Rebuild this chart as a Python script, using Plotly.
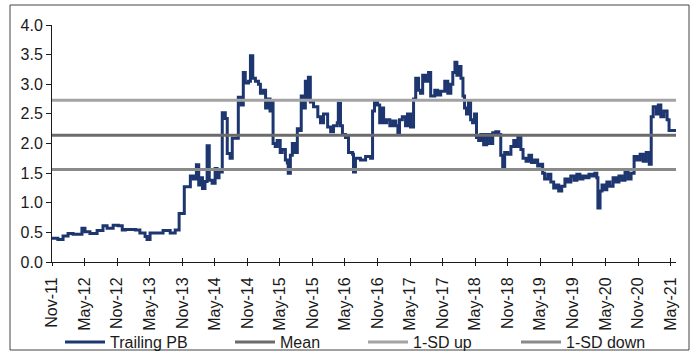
import pandas as pd
import plotly.graph_objects as go

# Trailing price-to-book multiple (observations at change points)
pb_dates = [
    "2011-11-01", "2011-12-04", "2012-01-02", "2012-01-30", "2012-02-27", "2012-04-17",
    "2012-05-04", "2012-06-01", "2012-07-11", "2012-08-13", "2012-09-05", "2012-10-09",
    "2012-11-07", "2012-11-29", "2012-12-16", "2013-02-11", "2013-03-08", "2013-04-06",
    "2013-04-17", "2013-05-04", "2013-07-16", "2013-08-25", "2013-09-22", "2013-10-14",
    "2013-11-12", "2013-12-16", "2014-01-02", "2014-01-19", "2014-02-01", "2014-02-11",
    "2014-02-22", "2014-03-08", "2014-03-20", "2014-04-01", "2014-04-17", "2014-05-04",
    "2014-05-15", "2014-05-26", "2014-06-13", "2014-06-30", "2014-07-11", "2014-07-27",
    "2014-08-08", "2014-09-11", "2014-09-28", "2014-10-09", "2014-10-20", "2014-11-07",
    "2014-11-18", "2014-12-01", "2014-12-16", "2015-01-02", "2015-01-13", "2015-01-30",
    "2015-02-11", "2015-02-22", "2015-03-08", "2015-03-20", "2015-03-25", "2015-04-06",
    "2015-04-17", "2015-05-04", "2015-05-15", "2015-06-02", "2015-06-13", "2015-06-18",
    "2015-06-30", "2015-07-11", "2015-07-27", "2015-08-08", "2015-08-25", "2015-08-30",
    "2015-09-11", "2015-09-22", "2015-10-03", "2015-10-09", "2015-10-20", "2015-11-07",
    "2015-12-01", "2015-12-16", "2016-01-02", "2016-01-25", "2016-02-11", "2016-02-27",
    "2016-03-19", "2016-03-25", "2016-04-06", "2016-04-17", "2016-05-04", "2016-05-21",
    "2016-06-13", "2016-06-18", "2016-06-29", "2016-07-27", "2016-08-25", "2016-09-22",
    "2016-10-03", "2016-10-14", "2016-10-31", "2016-11-12", "2016-11-23", "2016-12-04",
    "2016-12-21", "2017-01-08", "2017-01-25", "2017-02-11", "2017-02-22", "2017-03-03",
    "2017-03-19", "2017-04-06", "2017-04-17", "2017-05-04", "2017-05-21", "2017-06-02",
    "2017-06-18", "2017-06-29", "2017-07-11", "2017-07-27", "2017-08-13", "2017-08-25",
    "2017-09-17", "2017-10-03", "2017-10-20", "2017-11-12", "2017-11-29", "2017-12-16",
    "2017-12-27", "2018-01-08", "2018-01-19", "2018-01-30", "2018-02-11", "2018-02-22",
    "2018-03-03", "2018-03-14", "2018-03-25", "2018-04-06", "2018-04-17", "2018-04-28",
    "2018-05-09", "2018-05-21", "2018-06-02", "2018-06-18", "2018-07-05", "2018-07-22",
    "2018-08-08", "2018-08-25", "2018-09-11", "2018-09-22", "2018-10-03", "2018-10-14",
    "2018-10-31", "2018-11-18", "2018-12-04", "2018-12-16", "2018-12-27", "2019-01-13",
    "2019-01-25", "2019-02-11", "2019-02-27", "2019-03-14", "2019-03-31", "2019-04-17",
    "2019-05-04", "2019-05-15", "2019-05-26", "2019-06-13", "2019-06-30", "2019-07-16",
    "2019-08-02", "2019-08-13", "2019-08-30", "2019-09-17", "2019-10-03", "2019-10-20",
    "2019-11-07", "2019-11-23", "2019-12-10", "2019-12-27", "2020-01-13", "2020-01-30",
    "2020-02-16", "2020-03-03", "2020-03-14", "2020-03-20", "2020-04-01", "2020-04-12",
    "2020-04-23", "2020-05-09", "2020-05-26", "2020-06-13", "2020-06-30", "2020-07-16",
    "2020-08-02", "2020-08-19", "2020-09-05", "2020-09-22", "2020-10-09", "2020-10-26",
    "2020-11-12", "2020-11-29", "2020-12-16", "2021-01-02", "2021-01-13", "2021-01-24",
    "2021-02-11", "2021-02-22", "2021-03-08", "2021-03-25", "2021-04-12", "2021-04-23",
    "2021-06-01",
]
pb_values = [
    0.40, 0.38, 0.44, 0.48, 0.47, 0.57,
    0.51, 0.48, 0.53, 0.61, 0.57, 0.62,
    0.61, 0.54, 0.55, 0.54, 0.49, 0.43,
    0.38, 0.49, 0.53, 0.49, 0.54, 0.82,
    1.27, 1.45, 1.40, 1.64, 1.30, 1.42,
    1.24, 1.36, 1.96, 1.38, 1.33, 1.58,
    1.42, 1.52, 2.52, 2.42, 1.83, 1.75,
    2.09, 2.78, 2.65, 3.20, 3.02, 3.05,
    3.48, 3.10, 3.05, 3.00, 2.85, 2.90,
    2.60, 2.75, 2.55, 2.70, 2.00, 1.95,
    2.05, 1.85, 1.90, 1.72, 1.67, 1.50,
    1.80, 2.00, 1.85, 2.25, 2.22, 2.80,
    2.60, 3.05, 2.75, 3.12, 2.70, 2.62,
    2.45, 2.35, 2.50, 2.28, 2.20, 2.30,
    2.35, 2.68, 2.30, 2.15, 2.10, 1.85,
    1.82, 1.52, 1.75, 1.72, 1.78, 1.75,
    2.55, 2.72, 2.65, 2.35, 2.60, 2.35,
    2.40, 2.30, 2.38, 2.30, 2.18, 2.40,
    2.45, 2.30, 2.50, 2.28, 2.75, 3.10,
    2.90, 2.85, 3.15, 3.05, 3.20, 2.80,
    2.90, 2.82, 2.88, 3.05, 2.85, 3.00,
    3.20, 3.37, 3.15, 3.30, 3.10, 2.80,
    2.60, 2.50, 2.70, 2.40, 2.35, 2.50,
    2.10, 2.05, 2.15, 1.98, 2.15, 2.00,
    2.18, 2.20, 2.15, 1.80, 1.58, 1.85,
    1.82, 1.95, 2.05, 1.95, 2.10, 1.90,
    1.75, 1.70, 1.80, 1.68, 1.72, 1.62,
    1.65, 1.50, 1.40, 1.48, 1.35, 1.25,
    1.30, 1.20, 1.28, 1.40, 1.35, 1.45,
    1.38, 1.48, 1.40, 1.45, 1.42, 1.48,
    1.45, 1.50, 1.42, 0.91, 1.20, 1.30,
    1.22, 1.35, 1.28, 1.42, 1.35, 1.45,
    1.38, 1.52, 1.40, 1.50, 1.78, 1.72,
    1.82, 1.70, 1.85, 1.65, 2.45, 2.62,
    2.50, 2.65, 2.45, 2.55, 2.40, 2.22,
    2.22,
]

# Long-run statistics of the multiple
pb_mean = 2.14
pb_sd_up = 2.73
pb_sd_down = 1.56

x_start = "2011-11-01"
x_end = "2021-06-01"
tick_dates = pd.date_range("2011-11-01", "2021-05-01", freq="6MS")

font_family = "Liberation Sans, Arial, sans-serif"
axis_color = "#1a1a1a"

W, H = 696, 351
L, R, T, B = 52, 20, 25, 89
pw, ph = W - L - R, H - T - B


def px_to_paper_x(px):
    return (px - L) / pw


def px_to_paper_y(py):
    return (H - B - py) / ph


fig = go.Figure()

fig.add_trace(go.Scatter(
    x=pb_dates, y=pb_values, name="Trailing PB", mode="lines",
    line=dict(color="#1d3670", width=3, shape="hv"), legend="legend",
))
band_x = [x_start, x_end]
bands = [
    ("Mean", pb_mean, "#6b6b6b", "legend2"),
    ("1-SD up", pb_sd_up, "#a3a3a3", "legend3"),
    ("1-SD down", pb_sd_down, "#8a8a8a", "legend4"),
]
for name, val, col, leg in bands:
    fig.add_trace(go.Scatter(
        x=band_x, y=[val, val], name=name, mode="lines",
        line=dict(color=col, width=3), legend=leg,
    ))

# invisible trace carrying the upper half of the crossing x ticks
fig.add_trace(go.Scatter(x=band_x, y=[None, None], xaxis="x2",
                         showlegend=False, hoverinfo="skip"))

legend_style = dict(
    orientation="h", xanchor="left", yanchor="middle",
    y=px_to_paper_y(342), font=dict(size=16), itemwidth=40,
    bgcolor="rgba(0,0,0,0)",
)
legend_left = {"legend": 60, "legend2": 230, "legend3": 363, "legend4": 516}

fig.update_layout(
    width=W, height=H,
    margin=dict(l=L, r=R, t=T, b=B, pad=0, autoexpand=False),
    paper_bgcolor="white", plot_bgcolor="white",
    font=dict(family=font_family, size=16, color=axis_color),
    showlegend=True,
    xaxis=dict(
        type="date", range=[x_start, x_end], automargin=False,
        tickvals=tick_dates, tickformat="%b-%y", tickangle=-90,
        showline=True, linecolor=axis_color, linewidth=1,
        ticks="outside", ticklen=3, tickcolor=axis_color, tickwidth=1,
        ticklabelstandoff=5,
        showgrid=False, zeroline=False,
        tickfont=dict(size=16),
    ),
    xaxis2=dict(
        type="date", range=[x_start, x_end], overlaying="x", anchor="y",
        side="bottom", tickvals=tick_dates, showticklabels=False,
        ticks="inside", ticklen=4, tickcolor=axis_color, tickwidth=1,
        showline=False, showgrid=False, zeroline=False, automargin=False,
    ),
    yaxis=dict(
        range=[0, 4], dtick=0.5, tickformat=".1f", automargin=False,
        showline=True, linecolor=axis_color, linewidth=1,
        ticks="outside", ticklen=5, tickcolor=axis_color, tickwidth=1,
        showgrid=False, zeroline=False,
        tickfont=dict(size=16),
    ),
    shapes=[dict(
        type="rect", xref="paper", yref="paper",
        x0=px_to_paper_x(10), x1=px_to_paper_x(689),
        y0=px_to_paper_y(350), y1=px_to_paper_y(5),
        line=dict(color="#444444", width=1), fillcolor="rgba(0,0,0,0)",
        layer="below",
    )],
)
for key, left_px in legend_left.items():
    fig.update_layout({key: dict(legend_style, x=px_to_paper_x(left_px))})

fig.write_html("out.html")
